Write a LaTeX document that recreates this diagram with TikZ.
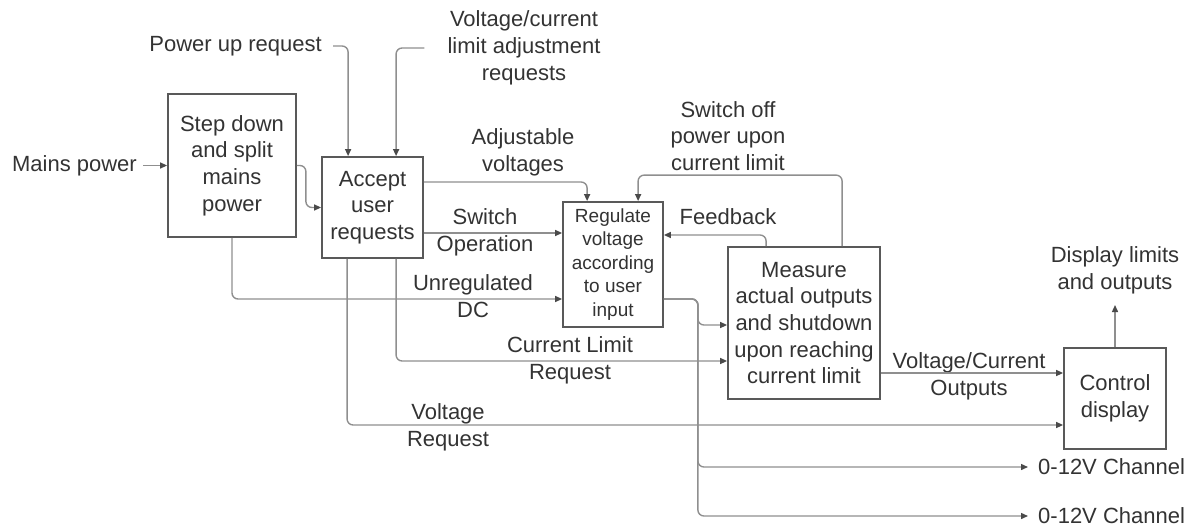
\documentclass[tikz,border=0pt]{standalone}
\usepackage{fontspec}
\setmainfont{Liberation Sans}
\usetikzlibrary{arrows.meta,calc}
\definecolor{txt}{HTML}{333333}
\definecolor{bord}{HTML}{595959}
\definecolor{conn}{HTML}{8F8F8F}
\definecolor{tipc}{HTML}{4A4A4A}
\begin{document}
\begin{tikzpicture}[x=1pt,y=-1pt,
  box/.style={draw=bord,line width=1.8pt,fill=white,align=center,text=txt,
    font=\fontsize{22}{26.7}\selectfont,inner sep=0pt},
  lbl/.style={align=center,text=txt,font=\fontsize{22}{26.7}\selectfont,inner sep=0pt},
  cn/.style={draw=conn,line width=1.4pt,rounded corners=6pt},
  arr/.style={cn,-{Triangle[length=7pt,width=6pt,color=tipc]}}]
\useasboundingbox (0,0) rectangle (1201,527);
% boxes
\node[box,minimum width=128pt,minimum height=143pt] (sd) at (232,165.5) {Step down\\and split\\mains\\power};
\node[box,minimum width=101pt,minimum height=101pt] (acc) at (372.5,207.5) {Accept\\user\\requests};
\node[box,minimum width=100pt,minimum height=125pt,font=\fontsize{19}{23.5}\selectfont] (reg) at (613,264.5) {Regulate\\voltage\\according\\to user\\input};
\node[box,minimum width=152pt,minimum height=152pt] (meas) at (804,323) {Measure\\actual outputs\\and shutdown\\upon reaching\\current limit};
\node[box,minimum width=102pt,minimum height=101pt] (ctl) at (1115,398.5) {Control\\display};
% labels
\node[lbl,anchor=east,inner xsep=6pt] (mains) at (143,165.5) {Mains power};
\node[lbl,anchor=east,inner xsep=11pt] (pur) at (333,46) {Power up request};
\node[lbl,inner xsep=23pt] (vcl) at (524,48) {Voltage/current\\limit adjustment\\requests};
\node[lbl] (adj) at (523,152.5) {Adjustable\\voltages};
\node[lbl] (swop) at (485,232.5) {Switch\\Operation};
\node[lbl] (unr) at (473,296) {Unregulated\\DC};
\node[lbl] (clr) at (570,360.5) {Current Limit\\Request};
\node[lbl] (vr) at (448,427.5) {Voltage\\Request};
\node[lbl] (swoff) at (728,136) {Switch off\\power upon\\current limit};
\node[lbl] (fb) at (728,217) {Feedback};
\node[lbl] (vco) at (969,376) {Voltage/Current\\Outputs};
\node[lbl,anchor=south,inner ysep=11pt] (disp) at (1115,305) {Display limits\\and outputs};
\node[lbl,anchor=west,inner xsep=10pt] (ch1) at (1028,467) {0-12V Channel};
\node[lbl,anchor=west,inner xsep=10pt] (ch2) at (1028,516) {0-12V Channel};
% connectors
\draw[arr] (mains.east) -- (sd.west);
\draw[arr] (pur.east) -| ($(acc.north west)+(27,0)$);
\draw[arr] (vcl.west) -| ($(acc.north west)+(75,0)$);
\draw[arr] (sd.east) -- ++(9,0) |- (acc.west);
\draw[arr] ($(acc.east)+(0,-25.5)$) -| ($(reg.north west)+(25,0)$);
\coordinate (sw) at ($(acc.east)+(0,25.5)$);
\draw[arr] (sw) -- (sw -| reg.west);
\draw[arr] (sd.south) |- ($(reg.west)+(0,34.5)$);
\draw[arr] ($(acc.south west)+(75,0)$) |- ($(meas.west)+(0,38)$);
\draw[arr] ($(acc.south west)+(26,0)$) |- ($(ctl.west)+(0,26.5)$);
\coordinate (ro) at ($(reg.east)+(0,34.5)$);
\draw[arr] (ro) -- ++(34,0) |- ($(meas.west)+(0,2)$);
\draw[arr] (ro) -- ++(34,0) |- (ch1.west);
\draw[arr] (ro) -- ++(34,0) |- (ch2.west);
\draw[arr] ($(meas.north west)+(39,0)$) |- ($(reg.east)+(0,-29.5)$);
\draw[arr] ($(meas.north west)+(115,0)$) -- ++(0,-71) -| ($(reg.north west)+(76,0)$);
\draw[arr] ($(meas.east)+(0,50)$) -- ($(ctl.west)+(0,-25.5)$);
\draw[arr] (ctl.north) -- (disp.south);
\end{tikzpicture}
\end{document}
